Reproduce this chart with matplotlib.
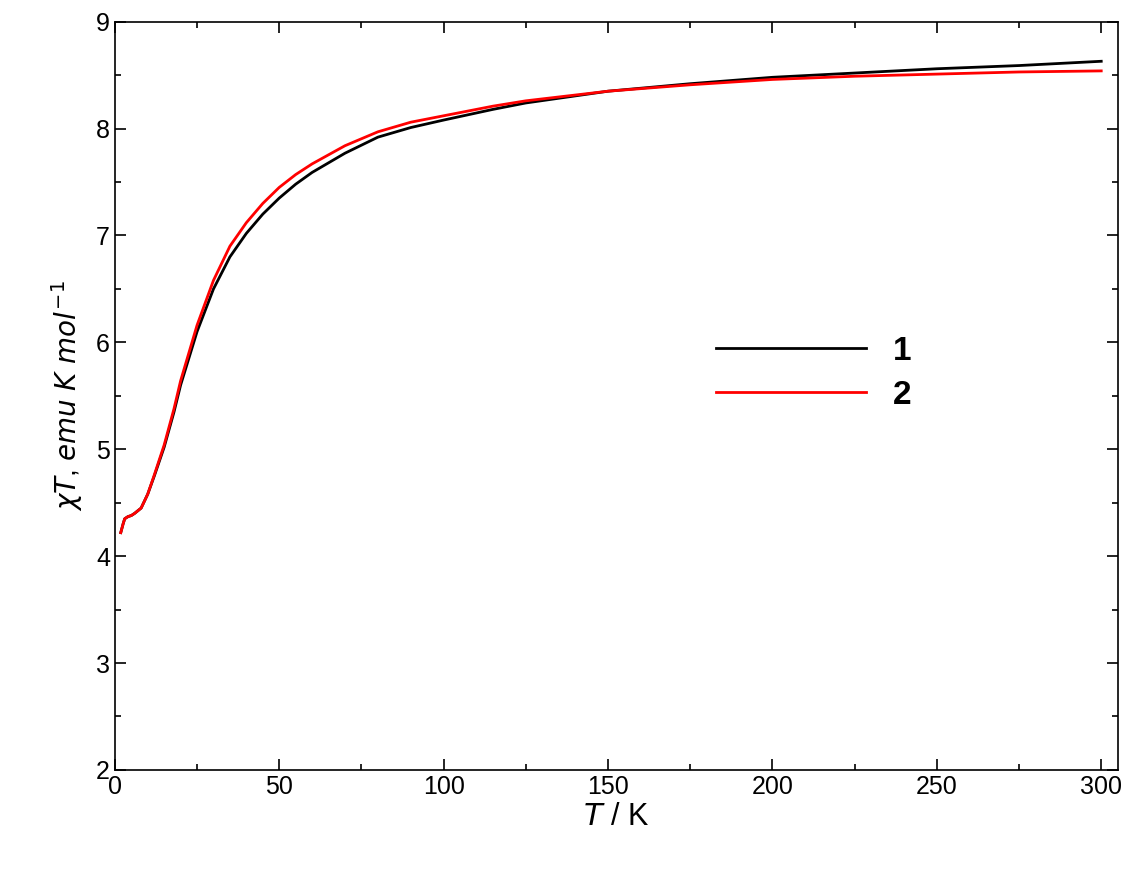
import matplotlib
matplotlib.use("Agg")
import matplotlib.pyplot as plt
from matplotlib.ticker import MultipleLocator

plt.rcParams['font.family'] = ['Liberation Sans', 'DejaVu Sans']

T1 = [1.8, 2.5, 3, 4, 5, 6, 8, 10, 12, 15, 18, 20, 25, 30, 35, 40, 45, 50, 55, 60, 70, 80, 90, 100, 115, 125, 150, 175, 200, 225, 250, 275, 300]
chi1 = [4.22, 4.3, 4.35, 4.37, 4.38, 4.4, 4.45, 4.58, 4.75, 5.02, 5.35, 5.6, 6.1, 6.5, 6.8, 7.02, 7.2, 7.35, 7.48, 7.59, 7.77, 7.92, 8.01, 8.08, 8.18, 8.24, 8.35, 8.42, 8.48, 8.52, 8.56, 8.59, 8.63]
T2 = T1
chi2 = [4.22, 4.3, 4.35, 4.37, 4.38, 4.4, 4.45, 4.58, 4.76, 5.04, 5.38, 5.64, 6.16, 6.58, 6.9, 7.12, 7.3, 7.45, 7.57, 7.67, 7.84, 7.97, 8.06, 8.12, 8.21, 8.26, 8.35, 8.41, 8.46, 8.49, 8.51, 8.53, 8.54]

fig = plt.figure(figsize=(11.37, 8.69), dpi=100)
ax = fig.add_axes([0.101, 0.114, 0.882, 0.861])
ax.plot(T1, chi1, color='black', lw=2, label='1')
ax.plot(T2, chi2, color='red', lw=2, label='2')
ax.set_xlim(0, 305)
ax.set_ylim(2, 9)
ax.xaxis.set_major_locator(MultipleLocator(50))
ax.xaxis.set_minor_locator(MultipleLocator(25))
ax.yaxis.set_major_locator(MultipleLocator(1))
ax.yaxis.set_minor_locator(MultipleLocator(0.5))
ax.tick_params(which='both', direction='in', top=True, right=True, labelsize=18, width=1.2)
ax.tick_params(which='major', length=8)
ax.tick_params(which='minor', length=4)
for s in ax.spines.values():
    s.set_linewidth(1.2)
ax.set_xlabel(r'$\mathit{T}$ / K', fontsize=22, labelpad=2)
ax.set_ylabel(r'$\chi\mathit{T}$, $\mathit{emu\ K\ mol^{-1}}$', fontsize=20, labelpad=8)
leg = ax.legend(loc='center left', bbox_to_anchor=(0.57, 0.53), frameon=False,
                handlelength=4.5, fontsize=24, prop={'weight': 'bold', 'size': 24}, labelspacing=0.4)
fig.savefig('out.png', dpi=100)
